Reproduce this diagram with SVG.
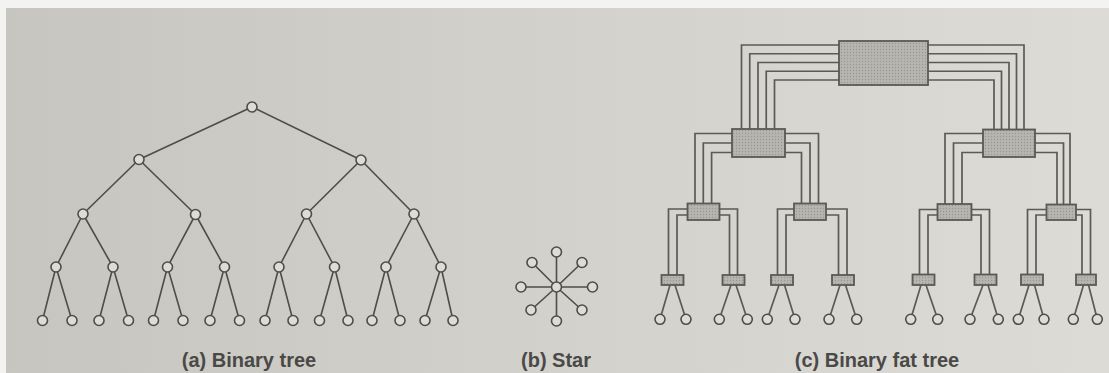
<svg xmlns="http://www.w3.org/2000/svg" width="1109" height="373" viewBox="0 0 1109 373">
  <defs>
    <linearGradient id="paper" x1="0" y1="0" x2="1" y2="0">
      <stop offset="0" stop-color="#c7c5bf"/>
      <stop offset="0.5" stop-color="#d2d1cc"/>
      <stop offset="1" stop-color="#dcdbd6"/>
    </linearGradient>
    <pattern id="stipple" width="3" height="3" patternUnits="userSpaceOnUse">
      <rect width="3" height="3" fill="#b7b5b0"/>
      <circle cx="1.5" cy="1.5" r="0.65" fill="#999792"/>
    </pattern>
    <style>
      .edge { fill: none; stroke: #4e4d4a; stroke-width: 1.6; stroke-linecap: round; }
      .wire { fill: none; stroke: #5b5a57; stroke-width: 1.7; }
      .node { fill: #dddcd7; stroke: #4e4d4a; stroke-width: 1.6; }
      .switch { fill: url(#stipple); stroke: #5a5956; stroke-width: 1.8; }
      .caption { font-family: "Liberation Sans", Arial, sans-serif; font-size: 20px; font-weight: bold; fill: #4a4947; text-anchor: middle; }
    </style>
  </defs>

  <!-- page background -->
  <rect x="0" y="0" width="1109" height="373" fill="url(#paper)"/>
  <rect x="0" y="0" width="1109" height="8" fill="#f3f3f1"/>
  <rect x="0" y="0" width="6" height="373" fill="#f3f3f1"/>

  <!-- ===== (a) Binary tree ===== -->
  <g id="binary-tree-edges" class="edge">
    <path d="M252,107 L139,159.5 M252,107 L361,160"/>
    <path d="M139,159.5 L83,214 M139,159.5 L195.5,214.5 M361,160 L306.5,214 M361,160 L414,214"/>
    <path d="M83,214 L56,267 M83,214 L113,267 M195.5,214.5 L167.5,267 M195.5,214.5 L224.5,267"/>
    <path d="M306.5,214 L279,267 M306.5,214 L334.5,267 M414,214 L386,267 M414,214 L441,267"/>
    <path d="M56,267 L42.5,320.5 M56,267 L72,320.5 M113,267 L99,320.5 M113,267 L128.5,320.5"/>
    <path d="M167.5,267 L153.5,320.5 M167.5,267 L183,320.5 M224.5,267 L210,320.5 M224.5,267 L239.5,320.5"/>
    <path d="M279,267 L265,320.5 M279,267 L293,320.5 M334.5,267 L319.5,320.5 M334.5,267 L348,320.5"/>
    <path d="M386,267 L372,320.5 M386,267 L400,320.5 M441,267 L425,320.5 M441,267 L453,320.5"/>
  </g>
  <g id="bt-root"><circle class="node" cx="252" cy="107" r="5"/></g>
  <g id="bt-l1"><circle class="node" cx="139" cy="159.5" r="5"/><circle class="node" cx="361" cy="160" r="5"/></g>
  <g id="bt-l2">
    <circle class="node" cx="83" cy="214" r="5"/><circle class="node" cx="195.5" cy="214.5" r="5"/>
    <circle class="node" cx="306.5" cy="214" r="5"/><circle class="node" cx="414" cy="214" r="5"/>
  </g>
  <g id="bt-l3">
    <circle class="node" cx="56" cy="267" r="5"/><circle class="node" cx="113" cy="267" r="5"/>
    <circle class="node" cx="167.5" cy="267" r="5"/><circle class="node" cx="224.5" cy="267" r="5"/>
    <circle class="node" cx="279" cy="267" r="5"/><circle class="node" cx="334.5" cy="267" r="5"/>
    <circle class="node" cx="386" cy="267" r="5"/><circle class="node" cx="441" cy="267" r="5"/>
  </g>
  <g id="bt-leaves">
    <circle class="node" cx="42.5" cy="320.5" r="5"/><circle class="node" cx="72" cy="320.5" r="5"/>
    <circle class="node" cx="99" cy="320.5" r="5"/><circle class="node" cx="128.5" cy="320.5" r="5"/>
    <circle class="node" cx="153.5" cy="320.5" r="5"/><circle class="node" cx="183" cy="320.5" r="5"/>
    <circle class="node" cx="210" cy="320.5" r="5"/><circle class="node" cx="239.5" cy="320.5" r="5"/>
    <circle class="node" cx="265" cy="320.5" r="5"/><circle class="node" cx="293" cy="320.5" r="5"/>
    <circle class="node" cx="319.5" cy="320.5" r="5"/><circle class="node" cx="348" cy="320.5" r="5"/>
    <circle class="node" cx="372" cy="320.5" r="5"/><circle class="node" cx="400" cy="320.5" r="5"/>
    <circle class="node" cx="425" cy="320.5" r="5"/><circle class="node" cx="453" cy="320.5" r="5"/>
  </g>

  <!-- ===== (b) Star ===== -->
  <g id="star-edges" class="edge">
    <path d="M556.5,287 L556.5,252 M556.5,287 L592.5,287 M556.5,287 L556.5,321 M556.5,287 L521,287"/>
    <path d="M556.5,287 L582,262.5 M556.5,287 L582,310 M556.5,287 L531,310 M556.5,287 L532,262.5"/>
  </g>
  <g id="star-hub"><circle class="node" cx="556.5" cy="287" r="5"/></g>
  <g id="star-spokes">
    <circle class="node" cx="556.5" cy="252" r="5"/><circle class="node" cx="592.5" cy="287" r="5"/>
    <circle class="node" cx="556.5" cy="321" r="5"/><circle class="node" cx="521" cy="287" r="5"/>
    <circle class="node" cx="582" cy="262.5" r="5"/><circle class="node" cx="582" cy="310" r="5"/>
    <circle class="node" cx="531" cy="310" r="5"/><circle class="node" cx="532" cy="262.5" r="5"/>
  </g>

  <!-- ===== (c) Binary fat tree ===== -->
  <g id="fat-tree-connectors" class="wire">
    <!-- root bundle, left half -->
    <path d="M839,45 H741.5 V129 M839,53.75 H749.75 V129 M839,62.5 H758 V129 M839,71.25 H766.25 V129 M839,80 H774.5 V129"/>
    <!-- root bundle, right half -->
    <path d="M928,45 H1024 V129.5 M928,53.75 H1016.5 V129.5 M928,62.5 H1009 V129.5 M928,71.25 H1001.5 V129.5 M928,80 H994 V129.5"/>
    <!-- second level bundles -->
    <path d="M732,133.5 H695 V203.5 M732,143 H703.3 V203.5 M732,152.5 H711.6 V203.5"/>
    <path d="M785,133.5 H818.5 V203.5 M785,143 H810 V203.5 M785,152.5 H801.5 V203.5"/>
    <path d="M983,133.5 H945 V204 M983,143 H953.5 V204 M983,152.5 H962 V204"/>
    <path d="M1035,133.5 H1070 V204.5 M1035,143 H1063.5 V204.5 M1035,152.5 H1057 V204.5"/>
    <!-- third level channels -->
    <path d="M687.5,209 H668.5 V275 M687.5,215 H677 V275 M719.5,209 H737.5 V275 M719.5,215 H729.5 V275"/>
    <path d="M794,209 H777.5 V275 M794,215 H786 V275 M826,209 H847 V275 M826,215 H838.5 V275"/>
    <path d="M937.5,209.5 H919.5 V274.5 M937.5,215 H928 V274.5 M971.5,209.5 H989.5 V274.5 M971.5,215 H981 V274.5"/>
    <path d="M1046.5,209.5 H1027.5 V274.5 M1046.5,215 H1036 V274.5 M1076,209.5 H1090.5 V274.5 M1076,215 H1082 V274.5"/>
    <!-- leaf links -->
    <path d="M670,285 L660,319.3 M675,285 L686,319.3 M731,285 L719.3,319.3 M736,285 L747.3,319.3"/>
    <path d="M779,285 L767.3,319.3 M784.5,285 L795,319.3 M840,285 L829,319.3 M845.5,285 L856.7,319.3"/>
    <path d="M921,285 L910.7,319.3 M926,285 L937.7,319.3 M983,285 L970,319.3 M988,285 L998.3,319.3"/>
    <path d="M1029,285 L1018.3,319.3 M1034.5,285 L1044,319.3 M1083.5,285 L1073.3,319.3 M1088.5,285 L1097.3,319.3"/>
  </g>

  <g id="ft-root"><rect class="switch" x="839" y="41" width="89" height="44"/></g>
  <g id="ft-mid-left"><rect class="switch" x="732" y="129" width="53" height="28"/></g>
  <g id="ft-mid-right"><rect class="switch" x="983" y="129.5" width="52" height="27.5"/></g>
  <g id="ft-l2-1"><rect class="switch" x="687.5" y="203.5" width="32" height="16.5"/></g>
  <g id="ft-l2-2"><rect class="switch" x="794" y="203.5" width="32" height="16.5"/></g>
  <g id="ft-l2-3"><rect class="switch" x="937.5" y="204" width="34" height="16"/></g>
  <g id="ft-l2-4"><rect class="switch" x="1046.5" y="204.5" width="29.5" height="15.5"/></g>
  <g id="ft-l3">
    <rect class="switch" x="661.5" y="275" width="22" height="10"/>
    <rect class="switch" x="722.5" y="275" width="22" height="10"/>
    <rect class="switch" x="771" y="275" width="22" height="10"/>
    <rect class="switch" x="832" y="275" width="22" height="10"/>
    <rect class="switch" x="912.5" y="274.5" width="22" height="10.5"/>
    <rect class="switch" x="974.5" y="274.5" width="22" height="10.5"/>
    <rect class="switch" x="1021" y="274.5" width="22" height="10.5"/>
    <rect class="switch" x="1076" y="274.5" width="20" height="10.5"/>
  </g>
  <g id="ft-leaves">
    <circle class="node" cx="660" cy="319.3" r="5"/><circle class="node" cx="686" cy="319.3" r="5"/>
    <circle class="node" cx="719.3" cy="319.3" r="5"/><circle class="node" cx="747.3" cy="319.3" r="5"/>
    <circle class="node" cx="767.3" cy="319.3" r="5"/><circle class="node" cx="795" cy="319.3" r="5"/>
    <circle class="node" cx="829" cy="319.3" r="5"/><circle class="node" cx="856.7" cy="319.3" r="5"/>
    <circle class="node" cx="910.7" cy="319.3" r="5"/><circle class="node" cx="937.7" cy="319.3" r="5"/>
    <circle class="node" cx="970" cy="319.3" r="5"/><circle class="node" cx="998.3" cy="319.3" r="5"/>
    <circle class="node" cx="1018.3" cy="319.3" r="5"/><circle class="node" cx="1044" cy="319.3" r="5"/>
    <circle class="node" cx="1073.3" cy="319.3" r="5"/><circle class="node" cx="1097.3" cy="319.3" r="5"/>
  </g>

  <!-- captions -->
  <g id="captions">
    <text class="caption" x="249" y="367">(a) Binary tree</text>
    <text class="caption" x="556" y="367">(b) Star</text>
    <text class="caption" x="877" y="367">(c) Binary fat tree</text>
  </g>
</svg>
